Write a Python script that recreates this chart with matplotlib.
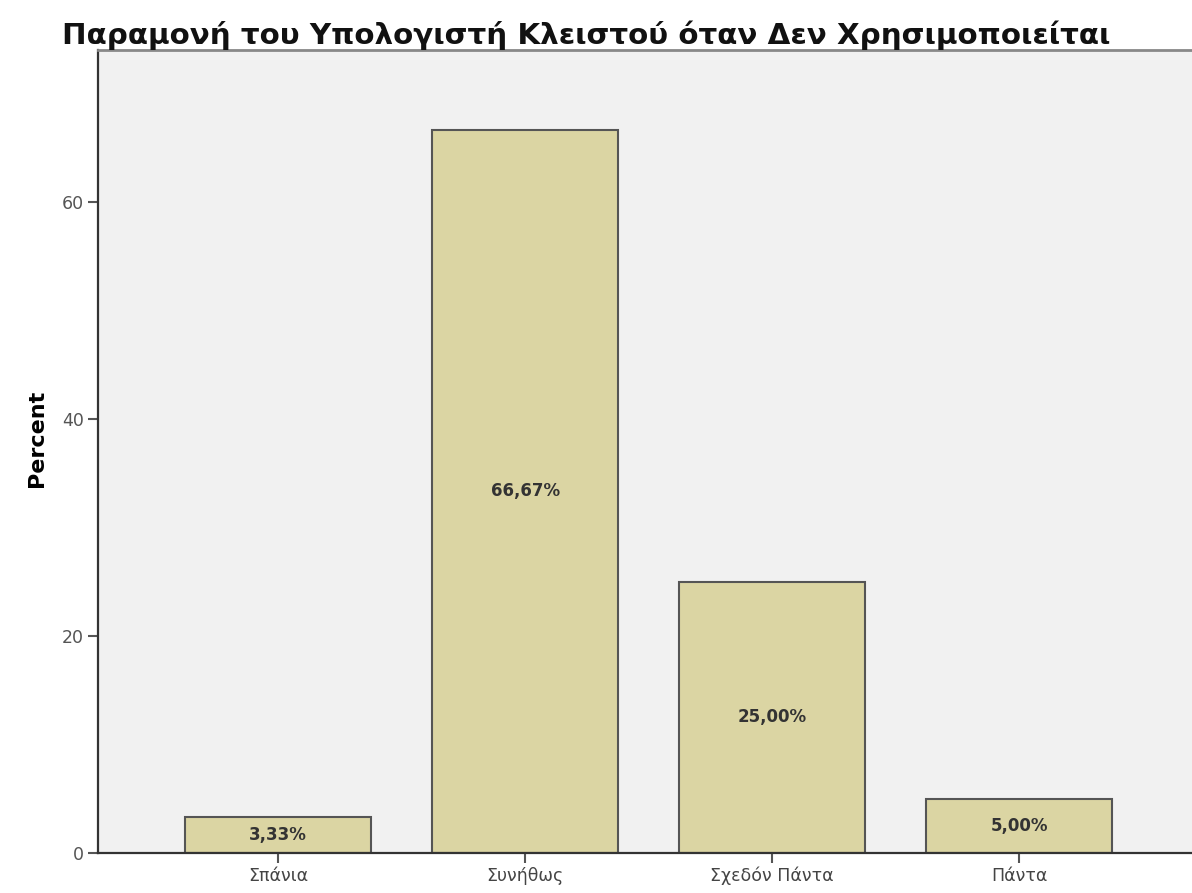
import matplotlib.pyplot as plt

categories = ["Σπάνια", "Συνήθως", "Σχεδόν Πάντα", "Πάντα"]
percents = [3.33, 66.67, 25.00, 5.00]
labels = ["3,33%", "66,67%", "25,00%", "5,00%"]
yticks = [0, 20, 40, 60]

fig = plt.figure(figsize=(11.92, 8.93), dpi=100)
ax = fig.add_axes([0.0822, 0.0448, 0.924, 0.899])
ax.set_facecolor("#f1f1f1")

x = range(len(categories))
ax.bar(x, percents, width=0.753, color="#dbd5a3", edgecolor="#555555", linewidth=1.5, zorder=2)

for i, (v, lab) in enumerate(zip(percents, labels)):
    ax.text(i, v / 2, lab, ha="center", va="center", fontsize=12, fontweight="bold", color="#333333")

ax.set_xlim(-0.73, 3.73)
ax.set_ylim(0, 74)
ax.set_xticks(list(x))
ax.set_xticklabels(categories, fontsize=12.5, color="#444444")
ax.set_yticks(yticks)
ax.set_yticklabels([str(t) for t in yticks], fontsize=12.5, color="#555555")
ax.tick_params(axis="both", direction="out", length=7, width=1.5, color="#555555", pad=3)

for side in ["left", "bottom"]:
    ax.spines[side].set_color("#333333")
    ax.spines[side].set_linewidth(1.6)
ax.spines["top"].set_color("#888888")
ax.spines["top"].set_linewidth(2)
ax.spines["right"].set_visible(False)

ax.set_ylabel("Percent", fontsize=16, fontweight="bold")
ax.yaxis.set_label_coords(-0.046, 0.516)
fig.text(0.052, 0.961, "Παραμονή του Υπολογιστή Κλειστού όταν Δεν Χρησιμοποιείται",
         fontsize=21.2, fontweight="bold", ha="left", va="center", color="#111111")

fig.savefig("out.png", dpi=100)
